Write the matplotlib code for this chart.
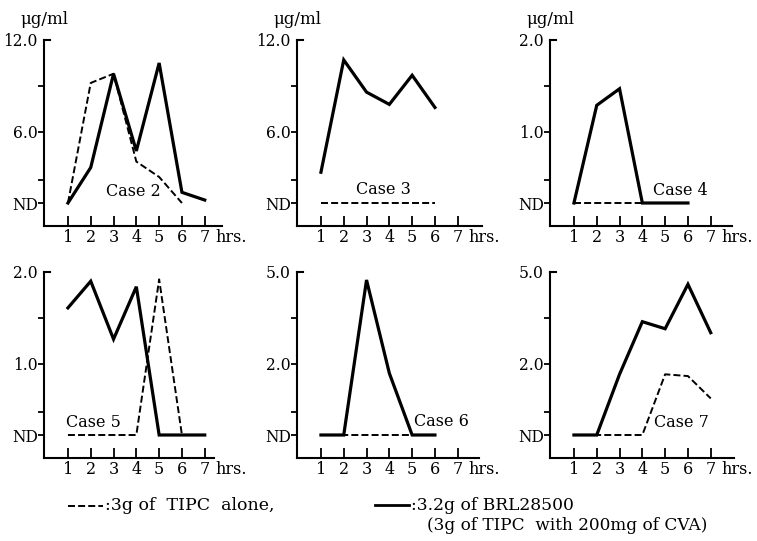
import numpy as np
import matplotlib
matplotlib.use("Agg")
import matplotlib.pyplot as plt
from matplotlib.lines import Line2D

plt.rcParams['font.family'] = ['DejaVu Serif']

# ---------------- data (ND plotted as 0) ----------------
hours = [1, 2, 3, 4, 5, 6, 7]
xtick_labels = ['1', '2', '3', '4', '5', '6', '7']

case2_tipc_h = [1, 2, 3, 4, 5, 6]
case2_tipc = [0, 9.2, 9.8, 3.5, 2.2, 0]
case2_brl_h = [1, 2, 3, 4, 5, 6, 7]
case2_brl = [0, 3.0, 9.8, 4.4, 10.5, 0.9, 0.25]

case3_tipc_h = [1, 2, 3, 4, 5, 6]
case3_tipc = [0, 0, 0, 0, 0, 0]
case3_brl_h = [1, 2, 3, 4, 5, 6]
case3_brl = [2.6, 10.7, 8.6, 7.8, 9.7, 7.6]

case4_tipc_h = [1, 2, 3, 4, 5, 6]
case4_tipc = [0, 0, 0, 0, 0, 0]
case4_brl_h = [1, 2, 3, 4, 5, 6]
case4_brl = [0, 1.29, 1.47, 0, 0, 0]

case5_tipc_h = [1, 2, 3, 4, 5, 6]
case5_tipc = [0, 0, 0, 0, 1.92, 0]
case5_brl_h = [1, 2, 3, 4, 5, 6, 7]
case5_brl = [1.61, 1.90, 1.27, 1.84, 0, 0, 0]

case6_tipc_h = [1, 2, 3, 4, 5, 6]
case6_tipc = [0, 0, 0, 0, 0, 0]
case6_brl_h = [1, 2, 3, 4, 5, 6]
case6_brl = [0, 0, 4.74, 1.74, 0, 0]

case7_tipc_h = [1, 2, 3, 4, 5, 6, 7]
case7_tipc = [0, 0, 0, 0, 1.71, 1.66, 1.03]
case7_brl_h = [1, 2, 3, 4, 5, 6, 7]
case7_brl = [0, 0, 1.71, 3.38, 3.15, 4.6, 3.02]

case_names = ['Case 2', 'Case 3', 'Case 4', 'Case 5', 'Case 6', 'Case 7']
mid_levels = [6.0, 6.0, 1.0, 1.0, 2.0, 2.0]
top_levels = [12.0, 12.0, 2.0, 2.0, 5.0, 5.0]
mid_labels = ['6.0', '6.0', '1.0', '1.0', '2.0', '2.0']
top_labels = ['12.0', '12.0', '2.0', '2.0', '5.0', '5.0']
case_label_pos = [(3.85, 1.0), (3.72, 1.18), (5.65, 0.17), (2.1, 0.18), (6.3, 0.39), (5.7, 0.34)]

tipc_series = [(case2_tipc_h, case2_tipc), (case3_tipc_h, case3_tipc), (case4_tipc_h, case4_tipc),
               (case5_tipc_h, case5_tipc), (case6_tipc_h, case6_tipc), (case7_tipc_h, case7_tipc)]
brl_series = [(case2_brl_h, case2_brl), (case3_brl_h, case3_brl), (case4_brl_h, case4_brl),
              (case5_brl_h, case5_brl), (case6_brl_h, case6_brl), (case7_brl_h, case7_brl)]

legend_dashed = ':3g of  TIPC  alone,'
legend_solid = ':3.2g of BRL28500'
legend_solid2 = '(3g of TIPC  with 200mg of CVA)'

# ---------------- layout ----------------
W, H = 757, 541
fig = plt.figure(figsize=(W / 100, H / 100), dpi=100)

P_MID, P_TOP, P_BOT = 71.0, 163.0, -23.0
XSTEP = 22.8
col_left = [44, 297, 550]
row_bottom = [226, 458]
x_right = [7.75, 8.05, 7.95, 7.4, 7.95, 8.0]
show_unit = [True, True, True, False, False, False]


def make_scale(mid, top):
    def fwd(v):
        v = np.asarray(v, dtype=float)
        return np.where(v < mid, v * P_MID / mid, P_MID + (v - mid) * (P_TOP - P_MID) / (top - mid))

    def inv(p):
        p = np.asarray(p, dtype=float)
        return np.where(p < P_MID, p * mid / P_MID, mid + (p - P_MID) * (top - mid) / (P_TOP - P_MID))
    return fwd, inv


for i in range(6):
    r, c = divmod(i, 3)
    left = col_left[c]
    bottom = row_bottom[r]
    xl, xr = -0.05, x_right[i]
    wpx = (xr - xl) * XSTEP
    hpx = P_TOP - P_BOT
    ax = fig.add_axes([left / W, (H - bottom) / H, wpx / W, hpx / H])
    mid, top = mid_levels[i], top_levels[i]
    fwd, inv = make_scale(mid, top)
    ax.set_yscale('function', functions=(fwd, inv))
    ax.set_xlim(xl, xr)
    ax.set_ylim(float(inv(P_BOT)), top)

    th, tv = tipc_series[i]
    bh, bv = brl_series[i]
    ax.plot(th, tv, color='black', lw=1.4, dashes=(3.6, 1.6), clip_on=False, zorder=2)
    ax.plot(bh, bv, color='black', lw=2.3, clip_on=False, zorder=3, solid_joinstyle='miter')

    for s in ['top', 'right']:
        ax.spines[s].set_visible(False)
    for s in ['left', 'bottom']:
        ax.spines[s].set_linewidth(1.5)

    minor_lo = float(inv(23.0))
    yt = [0, minor_lo, mid, (mid + top) / 2, top]
    ax.set_yticks(yt)
    ax.set_yticklabels(['ND', '', mid_labels[i], '', top_labels[i]])
    ax.minorticks_off()
    ax.tick_params(axis='y', direction='out', length=4, width=1.3, pad=0.5, labelsize=11.2)
    # top tick turns to the right (corner mark)
    ax.yaxis.get_major_ticks()[-1].tick1line.set_visible(False)
    ax.plot([0, 6 / wpx], [1, 1], transform=ax.transAxes, color='black', lw=1.5,
            clip_on=False, solid_capstyle='projecting')
    ax.set_xticks(hours)
    ax.set_xticklabels(xtick_labels)
    ax.tick_params(axis='x', direction='in', length=7, width=1.3, pad=2.5, labelsize=11.5)
    ax.set_facecolor('none')

    ax.annotate('hrs.', xy=(7.48, 0), xycoords=('data', 'axes fraction'),
                xytext=(0, -12), textcoords='offset pixels', ha='left', va='center', fontsize=11.5)
    if show_unit[i]:
        ax.annotate('μg/ml', xy=(0, 1), xycoords='axes fraction', xytext=(0, 21),
                    textcoords='offset pixels', ha='center', va='center', fontsize=12)
    lx, ly = case_label_pos[i]
    ax.text(lx, ly, case_names[i], ha='center', va='center', fontsize=11.5)

# ---------------- legend ----------------
def fx(px):
    return px / W


def fy(py):
    return 1 - py / H


fig.add_artist(Line2D([fx(68), fx(103)], [fy(506), fy(506)], color='black', lw=1.4,
                      dashes=(3.6, 1.6), transform=fig.transFigure))
fig.text(fx(105), fy(506), legend_dashed, ha='left', va='center', fontsize=12.5)
fig.add_artist(Line2D([fx(375), fx(409)], [fy(505), fy(505)], color='black', lw=2.0,
                      transform=fig.transFigure))
fig.text(fx(411), fy(506), legend_solid, ha='left', va='center', fontsize=12.3)
fig.text(fx(427), fy(526), legend_solid2, ha='left', va='center', fontsize=12.2)

fig.savefig('out.png', dpi=100, facecolor='white')
